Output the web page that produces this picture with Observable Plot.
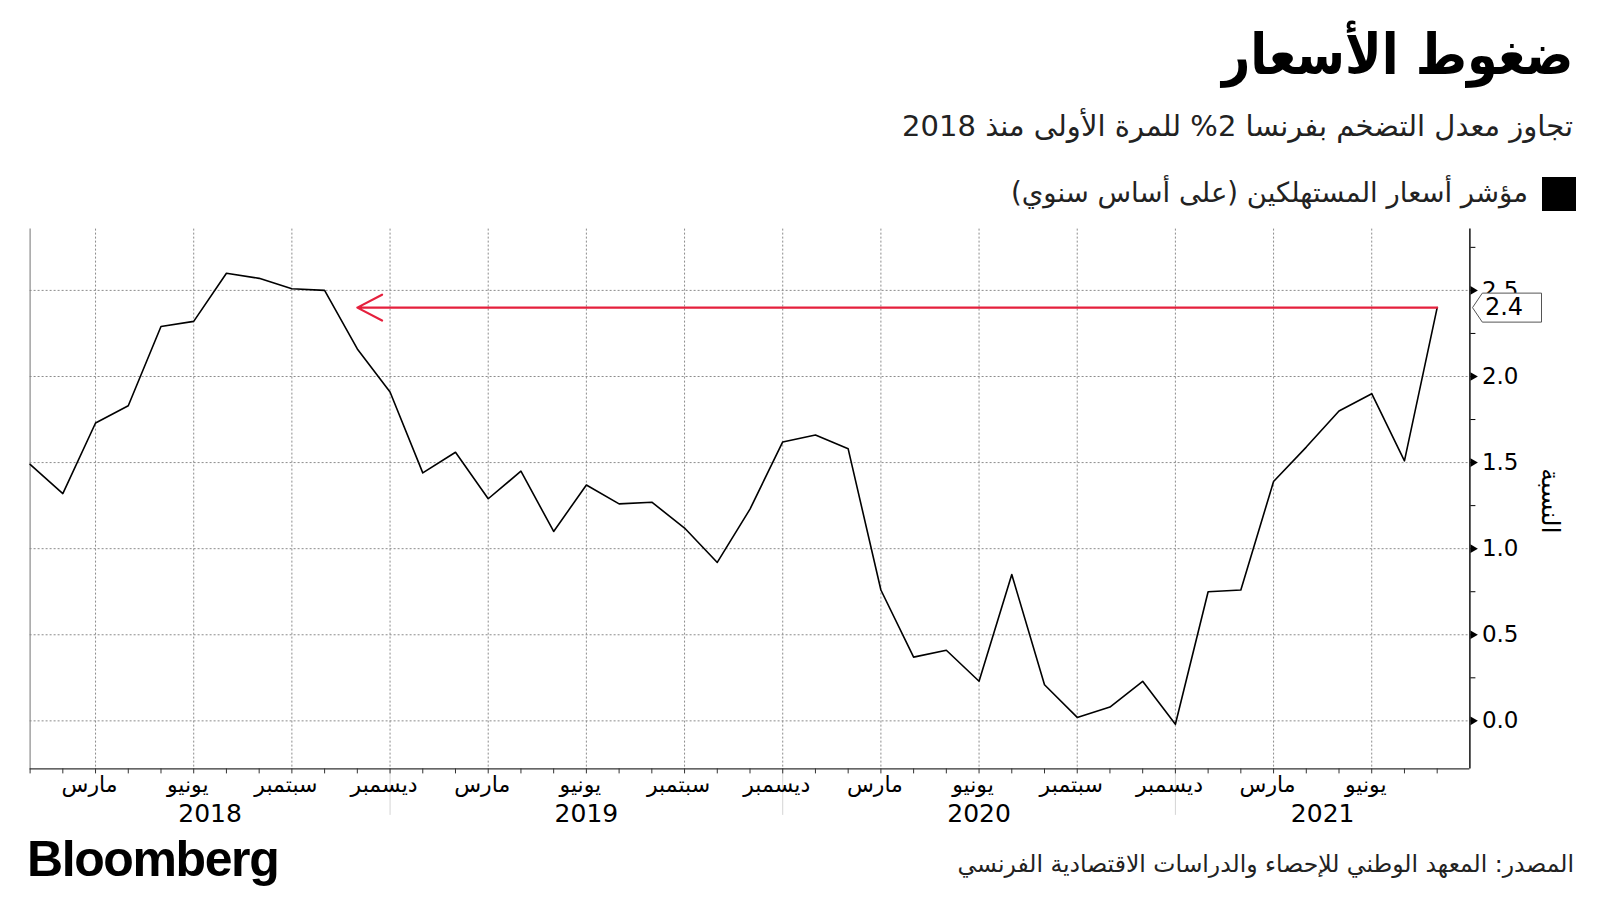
<!DOCTYPE html>
<html>
<head>
<meta charset="utf-8">
<script src="https://cdn.jsdelivr.net/npm/d3@7"></script>
<script src="https://cdn.jsdelivr.net/npm/@observablehq/plot@0.6"></script>
<style>
  html, body { margin: 0; padding: 0; background: #fff; }
  #root { position: relative; width: 1600px; height: 900px; overflow: hidden; background: #fff; font-family: "DejaVu Sans", "Noto Sans", sans-serif; color: #000; }
  .rt { position: absolute; right: 27px; direction: rtl; white-space: nowrap; line-height: 1; }
  #title { top: 27px; font-size: 56px; font-weight: bold; transform: scaleX(0.88); transform-origin: right center; }
  #subtitle { top: 112px; font-size: 29px; color: #222; }
  #legend { top: 179px; font-size: 27.5px; right: 72px; color: #222; }
  #legsw { position: absolute; left: 1542px; top: 177px; width: 34px; height: 34px; background: #000; }
  #source { top: 853px; font-size: 23.5px; color: #222; right: 26px; }
  #logo { position: absolute; left: 27px; top: 834px; font-family: "Liberation Sans", Arial, sans-serif; font-weight: bold; font-size: 50px; letter-spacing: -1.4px; line-height: 1; }
  #chart { position: absolute; left: 0; top: 200px; }
</style>
</head>
<body>
<div id="root">
  <div id="title" class="rt">ضغوط الأسعار</div>
  <div id="subtitle" class="rt">تجاوز معدل التضخم بفرنسا 2% للمرة الأولى منذ 2018</div>
  <div id="legsw"></div>
  <div id="legend" class="rt">مؤشر أسعار المستهلكين (على أساس سنوي)</div>
  <div id="chart"></div>
  <div id="logo">Bloomberg</div>
  <div id="source" class="rt">المصدر: المعهد الوطني للإحصاء والدراسات الاقتصادية الفرنسي</div>
</div>
<script>
// ---- data ----
const months = [
  "2018-01","2018-02","2018-03","2018-04","2018-05","2018-06","2018-07","2018-08","2018-09","2018-10","2018-11","2018-12",
  "2019-01","2019-02","2019-03","2019-04","2019-05","2019-06","2019-07","2019-08","2019-09","2019-10","2019-11","2019-12",
  "2020-01","2020-02","2020-03","2020-04","2020-05","2020-06","2020-07","2020-08","2020-09","2020-10","2020-11","2020-12",
  "2021-01","2021-02","2021-03","2021-04","2021-05","2021-06","2021-07","2021-08"
];
const cpi = [
  1.49, 1.32, 1.73, 1.83, 2.29, 2.32, 2.60, 2.57, 2.51, 2.50, 2.16, 1.91,
  1.44, 1.56, 1.29, 1.45, 1.10, 1.37, 1.26, 1.27, 1.12, 0.92, 1.23, 1.62,
  1.66, 1.58, 0.76, 0.37, 0.41, 0.23, 0.85, 0.21, 0.02, 0.08, 0.23, -0.02,
  0.75, 0.76, 1.39, 1.59, 1.80, 1.90, 1.51, 2.40
];
const tickMonths = ["2018-03","2018-06","2018-09","2018-12","2019-03","2019-06","2019-09","2019-12",
  "2020-03","2020-06","2020-09","2020-12","2021-03","2021-06"];
const monthNames = {"03": "مارس", "06": "يونيو", "09": "سبتمبر", "12": "ديسمبر"};
const years = ["2018", "2019", "2020", "2021"];
const yTicks = [0, 0.5, 1.0, 1.5, 2.0, 2.5];
const yMinorTicks = [0, 0.25, 0.5, 0.75, 1.0, 1.25, 1.5, 1.75, 2.0, 2.25, 2.5, 2.75];
const latestValue = 2.4;
const arrowTargetMonth = "2018-11";
const latestLabel = "2.4";
const yTitle = "النسبة";

// ---- derived tables ----
const data = months.map((m, i) => ({i, m, v: cpi[i]}));
const allIdx = months.map((m, i) => i);
const quarterIdx = tickMonths.map(m => months.indexOf(m));
const decIdx = tickMonths.filter(m => m.endsWith("-12")).map(m => months.indexOf(m));
const yLo = -0.279, yHi = 2.856, xHi = 44;
// year label centred between the year boundaries (December points / chart edges)
const yearPos = years.map(y => {
  const prevDec = months.indexOf((+y - 1) + "-12");
  const thisDec = months.indexOf(y + "-12");
  const a = prevDec < 0 ? 0 : prevDec;
  const b = thisDec < 0 ? xHi : thisDec;
  return (a + b) / 2;
});
const yearOf = new Map(yearPos.map((p, k) => [p, years[k]]));
const lastIdx = months.length - 1;

const grid = {stroke: "#8c8c8c", strokeOpacity: 1, strokeDasharray: "2,2", strokeWidth: 1};

const tagSymbol = {
  draw(ctx) {
    ctx.moveTo(2.6, 0);
    ctx.lineTo(12.4, -14.5);
    ctx.lineTo(71.6, -14.5);
    ctx.lineTo(71.6, 14.5);
    ctx.lineTo(12.4, 14.5);
    ctx.closePath();
  }
};

const chart = Plot.plot({
  width: 1600,
  height: 640,
  marginTop: 28.6,
  marginBottom: 71.6,
  marginLeft: 29.6,
  marginRight: 130.6,
  x: {type: "linear", domain: [0, xHi], label: null},
  y: {domain: [yLo, yHi], label: null},
  style: {fontFamily: "'DejaVu Sans', 'Noto Sans', sans-serif", fontSize: "22px", color: "#000", background: "transparent", overflow: "visible"},
  marks: [
    Plot.gridY(yTicks, grid),
    Plot.gridX(quarterIdx, grid),
    Plot.ruleX(decIdx, {y1: yLo, y2: yLo - 0.27, stroke: "#d4d4d4", strokeWidth: 1}),
    Plot.ruleX([0], {stroke: "#8a8a8a", strokeWidth: 1.2}),
    Plot.ruleY([yLo], {stroke: "#333", strokeWidth: 1.3}),
    Plot.axisX({ticks: allIdx, tickSize: 5, tickFormat: () => "", stroke: "#333", label: null}),
    Plot.axisX({ticks: quarterIdx, tickSize: 0, tickPadding: 7, dx: -6, fontSize: 22, label: null,
      tickFormat: i => monthNames[months[Math.round(i)].slice(5)]}),
    Plot.axisX({ticks: yearPos, tickSize: 0, tickPadding: 35, fontSize: 25, label: null,
      tickFormat: p => yearOf.get(p)}),
    Plot.ruleX([xHi], {stroke: "#000", strokeWidth: 1.4}),
    Plot.axisY({anchor: "right", ticks: yMinorTicks, tickSize: 5, tickFormat: () => "", stroke: "#000", label: null}),
    Plot.axisY({anchor: "right", ticks: yTicks, tickSize: 0, tickPadding: 12, fontSize: 23, tickFormat: d3.format(".1f"), label: null}),
    Plot.dot(yTicks, {x: xHi, y: d => d, symbol: "triangle", rotate: 90, r: 3.2, fill: "#000", stroke: null, dx: 3}),
    Plot.line(data, {x: "i", y: "v", stroke: "#000", strokeWidth: 1.6}),
    Plot.arrow([{x1: lastIdx, x2: months.indexOf(arrowTargetMonth), y: latestValue}], {
      x1: "x1", x2: "x2", y1: "y", y2: "y", stroke: "#e5203d", strokeWidth: 2.2, headLength: 19, headAngle: 55
    }),
    Plot.dot([latestValue], {x: xHi, y: d => d, symbol: tagSymbol, fill: "#fff", stroke: "#555", strokeWidth: 1}),
    Plot.text([latestLabel], {x: xHi, y: latestValue, dx: 15, textAnchor: "start", fontSize: 24, fill: "#000"}),
    Plot.text([yTitle], {frameAnchor: "right", textAnchor: "middle", dx: 80, dy: 2, rotate: 90, fontSize: 25, fill: "#000"})
  ]
});
document.getElementById("chart").appendChild(chart);
</script>
</body>
</html>
